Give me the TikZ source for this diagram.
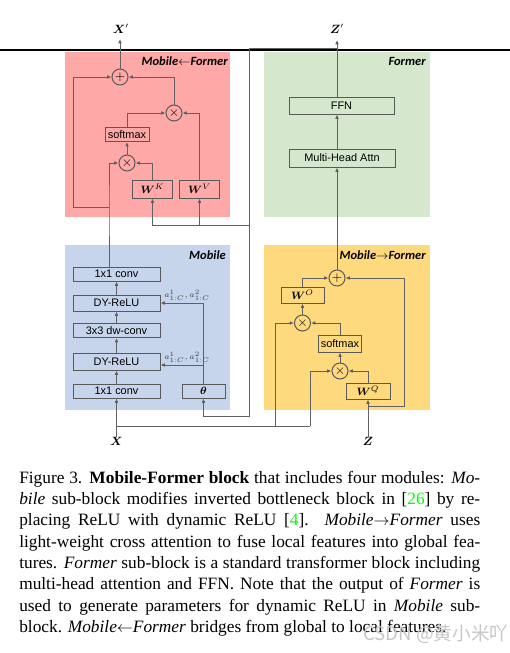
\documentclass[tikz,border=0pt]{standalone}
\usepackage{fontspec}
\usepackage{amsmath}
\setmainfont{Liberation Serif}
\newfontfamily\boxfont{Liberation Sans}
\newfontfamily\titlefont{Carlito}
\newfontfamily\cjkfont{Noto Sans CJK SC}
\usetikzlibrary{arrows.meta}
\newdimen\px \px=0.75pt
\definecolor{pinkbg}{HTML}{FFA8A8}
\definecolor{greenbg}{HTML}{D5E7CC}
\definecolor{bluebg}{HTML}{C6D4EC}
\definecolor{yellowbg}{HTML}{FFD97D}
\colorlet{bc}{black!65}
\colorlet{lc}{black!62}
\begin{document}
\begin{tikzpicture}[x=0.75pt,y=-0.75pt,
 ln/.style={draw=lc, line width=0.75pt},
 arr/.style={ln, -{Latex[length=3.2pt,width=2.8pt]}},
 blk/.style={draw=bc, line width=0.75pt, inner sep=0pt, minimum height=15*\px, font=\boxfont\fontsize{8.2}{9}\selectfont},
 circ/.style={circle, draw=bc, line width=0.75pt, minimum size=16*\px, inner sep=0pt, font=\fontsize{10}{10}\selectfont},
 ttl/.style={anchor=east, inner sep=0pt, font=\titlefont\bfseries\itshape\fontsize{9.4}{10}\selectfont},
 lbl/.style={inner sep=0pt, font=\fontsize{9}{9}\selectfont},
 alab/.style={anchor=south west, inner sep=0pt, text=black!75, font=\fontsize{6.2}{6.2}\selectfont},
 capt/.style={anchor=base west, inner sep=0pt, font=\fontsize{13}{16}\selectfont},
]
\useasboundingbox (0,0) rectangle (510,653);
% backgrounds
\fill[pinkbg] (65,52) rectangle (230,217);
\fill[greenbg] (264,52) rectangle (430,217);
\fill[bluebg] (65,245) rectangle (230,410);
\fill[yellowbg] (264,245) rectangle (430,410);
% page rule
\draw[black, line width=1pt] (0,50) -- (510,50);
% titles
\node[ttl] (tP) at (228,61) {Mobile$\leftarrow$Former};
\node[ttl] (tF) at (426,61) {Former};
\node[ttl] (tM) at (226,255) {Mobile};
\node[ttl] (tY) at (426,255) {Mobile$\rightarrow$Former};
% ---- Mobile<-Former (pink)
\node[circ] (plusP) at (120,77) {$+$};
\node[circ] (timesPU) at (174,113) {$\times$};
\node[blk, minimum width=44*\px, minimum height=14*\px] (softmaxP) at (127,134.5) {softmax};
\node[circ] (timesPL) at (127,163) {$\times$};
\node[blk, minimum width=40*\px, minimum height=18*\px] (WK) at (152.5,189) {$\boldsymbol{W}^{K}$};
\node[blk, minimum width=40*\px, minimum height=18*\px] (WV) at (199.5,189) {$\boldsymbol{W}^{V}$};
% ---- Former (green)
\node[blk, minimum width=105*\px, minimum height=17*\px] (FFN) at (341.5,105.5) {FFN};
\node[blk, minimum width=106*\px, minimum height=18*\px] (MHA) at (342,158) {Multi-Head Attn};
% ---- Mobile (blue)
\node[blk, minimum width=87*\px, minimum height=14*\px] (conv1) at (116.5,274) {1x1 conv};
\node[blk, minimum width=87*\px, minimum height=16*\px] (dy2) at (116.5,303) {DY-ReLU};
\node[blk, minimum width=87*\px, minimum height=14*\px] (dw) at (116.5,330.5) {3x3 dw-conv};
\node[blk, minimum width=87*\px, minimum height=17*\px] (dy1) at (116.5,361.5) {DY-ReLU};
\node[blk, minimum width=87*\px, minimum height=14*\px] (conv0) at (116.5,391) {1x1 conv};
\node[blk, minimum width=43*\px, minimum height=14*\px] (theta) at (203.5,391) {$\boldsymbol{\theta}$};
\node[alab] (a2) at (164,301) {$a^1_{1:C},a^2_{1:C}$};
\node[alab] (a1) at (164,363) {$a^1_{1:C},a^2_{1:C}$};
% ---- Mobile->Former (yellow)
\node[circ] (plusY) at (337,278) {$+$};
\node[blk, minimum width=43*\px, minimum height=16*\px] (WO) at (302.5,295) {$\boldsymbol{W}^{O}$};
\node[circ] (timesYU) at (302.5,323) {$\times$};
\node[blk, minimum width=43*\px, minimum height=17*\px] (softmaxY) at (340,343.5) {softmax};
\node[circ] (timesYL) at (340,371) {$\times$};
\node[blk, minimum width=44*\px, minimum height=16*\px] (WQ) at (368,391) {$\boldsymbol{W}^{Q}$};
% ---- outer labels
\node[lbl] (Xp) at (121,29) {$\boldsymbol{X}'$};
\node[lbl] (Zp) at (337,29) {$\boldsymbol{Z}'$};
\node[lbl] (Xl) at (116.5,441) {$\boldsymbol{X}$};
\node[lbl] (Zl) at (368,441) {$\boldsymbol{Z}$};
% ---- coordinates
\coordinate (xpe) at (120,39);
\coordinate (zpe) at (337,40);
\coordinate (jm) at (109,207);
\coordinate (lp) at (73,207);
\coordinate (jf) at (337,48.5);
\coordinate (c1) at (249,48.5);
\coordinate (c2) at (249,416);
\coordinate (jw) at (249,225.5);
\coordinate (ja) at (203.5,365);
\coordinate (jx) at (116.5,426);
\coordinate (bx1) at (275,426);
\coordinate (bx2) at (310,426);
\coordinate (jz) at (368,406);
\coordinate (rz) at (404,406);
% ---- pink connectors
\draw[arr] (plusP.north) -- (xpe);
\draw[arr] (conv1.north -| jm) -- (jm) |- (timesPL.west);
\draw[arr] (jm) -- (lp) |- (plusP.west);
\draw[arr] (WK.north) |- (timesPL.east);
\draw[arr] (timesPL.north) -- (softmaxP.south);
\draw[arr] (softmaxP.north) |- (timesPU.west);
\draw[arr] (WV.north) |- (timesPU.east);
\draw[arr] (timesPU.north) |- (plusP.east);
% ---- former connectors
\draw[arr] (FFN.north -| zpe) -- (zpe);
\draw[arr] (MHA.north -| zpe) -- (FFN.south -| zpe);
\draw[arr] (plusY.north) -- (MHA.south -| plusY.north);
\draw[arr] (jf) -- (c1) -- (c2) -| (theta.south);
\draw[arr] (jw) -| (WK.south);
\draw[arr] (WV.south |- jw) -- (WV.south);
% ---- mobile connectors
\draw[arr] (Xl.north) -- (conv0.south);
\draw[arr] (conv0) -- (dy1);
\draw[arr] (dy1) -- (dw);
\draw[arr] (dw) -- (dy2);
\draw[arr] (dy2) -- (conv1);
\draw[arr] (theta.north) |- (dy2.east);
\draw[arr] (ja) -- (ja -| dy1.east);
\draw[ln] (jx) -- (bx2);
% ---- yellow connectors
\draw[arr] (bx1) |- (timesYU.west);
\draw[arr] (bx2) |- (timesYL.west);
\draw[arr] (Zl.north) -- (WQ.south);
\draw[arr] (jz) -- (rz) |- (plusY.east);
\draw[arr] (WQ.north) |- (timesYL.east);
\draw[arr] (timesYL.north) -- (softmaxY.south);
\draw[arr] (softmaxY.north) |- (timesYU.east);
\draw[arr] (timesYU.north) -- (WO.south);
\draw[arr] (WO.north) |- (plusY.west);
% ---- caption
\node[capt] (cap1) at (19,483.3) {\makebox[461\px][s]{Figure 3. \textbf{Mobile-Former block} that includes four modules: \textit{Mo-}}};
\node[capt] (cap2) at (19,504.6) {\makebox[461\px][s]{\textit{bile} sub-block modifies inverted bottleneck block in [\textcolor{green}{26}] by re-}};
\node[capt] (cap3) at (19,525.9) {\makebox[461\px][s]{placing ReLU with dynamic ReLU [\textcolor{green}{4}]. \textit{Mobile$\rightarrow$Former} uses}};
\node[capt] (cap4) at (19,547.2) {\makebox[461\px][s]{light-weight cross attention to fuse local features into global fea-}};
\node[capt] (cap5) at (19,568.5) {\makebox[461\px][s]{tures. \textit{Former} sub-block is a standard transformer block including}};
\node[capt] (cap6) at (19,589.8) {\makebox[461\px][s]{multi-head attention and FFN. Note that the output of \textit{Former} is}};
\node[capt] (cap7) at (19,611.1) {\makebox[461\px][s]{used to generate parameters for dynamic ReLU in \textit{Mobile} sub-}};
\node[capt] (cap8) at (19,632.4) {block. \textit{Mobile$\leftarrow$Former} bridges from global to local features.};
\node[anchor=base west, inner sep=0pt, text=black!22, font=\cjkfont\fontsize{14}{14}\selectfont] (wm) at (363,640) {CSDN @黄小米吖};
\end{tikzpicture}
\end{document}
